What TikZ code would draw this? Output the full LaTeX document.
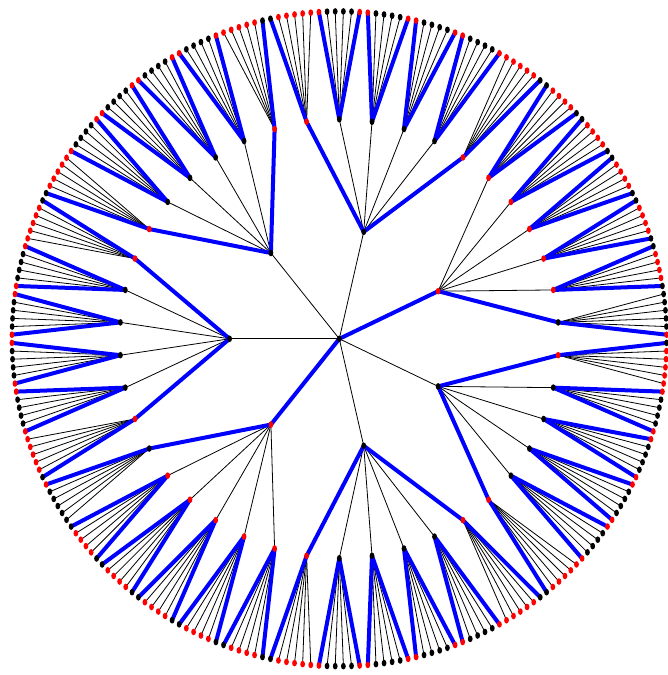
\documentclass[tikz,border=0pt]{standalone}
\usetikzlibrary{shapes.geometric}
\definecolor{rd}{RGB}{255,0,0}
\definecolor{bl}{RGB}{0,0,255}
\tikzset{
  thinedge/.style={draw=black, line width=0.8pt},
  blueedge/.style={draw=bl, line width=4pt},
  dotbase/.style={ellipse, inner sep=0pt, minimum width=4.8pt, minimum height=6.6pt, draw=none},
  reddot/.style={dotbase, fill=rd},
  blackdot/.style={dotbase, fill=black}
}
\begin{document}
\begin{tikzpicture}[x=1pt,y=1pt]
\useasboundingbox (0,0) rectangle (667,675);
\coordinate (root) at (339.3,336.2);
% positions
\foreach \c in {0,...,6}{
  \pgfmathsetmacro\ca{180+360/7*\c}
  \path (root) ++(\ca:109.7) coordinate (c\c);
  \foreach \k in {0,...,5}{
    \pgfmathsetmacro\ga{\ca+360/42*(\k-2.5)}
    \path (root) ++(\ga:219.5) coordinate (g\c-\k);
    \foreach \j in {0,...,5}{
      \pgfmathsetmacro\la{\ga+360/252*(\j-2.5)}
      \path (root) ++(\la:327.4) coordinate (l\c-\k-\j);
    }
  }
}
% thin edges
\foreach \c in {0,...,6}{
  \pgfmathtruncatemacro\cb{or(\c==1,\c==4)}
  \ifnum\cb=0\relax \draw[thinedge] (root) -- (c\c);\fi
  \foreach \k in {0,...,5}{
    \pgfmathtruncatemacro\gb{or(\k==0,and(\cb==0,\k==5))}
    \ifnum\gb=0\relax \draw[thinedge] (c\c) -- (g\c-\k);\fi
    \foreach \j in {0,...,5}{
      \pgfmathtruncatemacro\lb{or(and(\j==0,or(\gb==0,\k==0)),and(\j==5,or(\gb==0,\k==5)))}
      \ifnum\lb=0\relax \draw[thinedge] (g\c-\k) -- (l\c-\k-\j);\fi
    }
  }
}
% blue edges
\foreach \c in {0,...,6}{
  \pgfmathtruncatemacro\cb{or(\c==1,\c==4)}
  \ifnum\cb=1\relax \draw[blueedge] (root) -- (c\c);\fi
  \foreach \k in {0,...,5}{
    \pgfmathtruncatemacro\gb{or(\k==0,and(\cb==0,\k==5))}
    \ifnum\gb=1\relax \draw[blueedge] (c\c) -- (g\c-\k);\fi
    \foreach \j in {0,...,5}{
      \pgfmathtruncatemacro\lb{or(and(\j==0,or(\gb==0,\k==0)),and(\j==5,or(\gb==0,\k==5)))}
      \ifnum\lb=1\relax \draw[blueedge] (g\c-\k) -- (l\c-\k-\j);\fi
    }
  }
}
% dots
\node[blackdot] (droot) at (root) {};
\foreach \c in {0,...,6}{
  \pgfmathtruncatemacro\cb{or(\c==1,\c==4)}
  \ifodd\cb\relax \node[reddot] (dc\c) at (c\c) {};\else \node[blackdot] (dc\c) at (c\c) {};\fi
  \foreach \k in {0,...,5}{
    \pgfmathtruncatemacro\gb{or(\k==0,and(\cb==0,\k==5))}
    \pgfmathtruncatemacro\gp{\cb+\gb}
    \ifodd\gp\relax \node[reddot] (dg\c-\k) at (g\c-\k) {};\else \node[blackdot] (dg\c-\k) at (g\c-\k) {};\fi
    \foreach \j in {0,...,5}{
      \pgfmathtruncatemacro\lb{or(and(\j==0,or(\gb==0,\k==0)),and(\j==5,or(\gb==0,\k==5)))}
      \pgfmathtruncatemacro\lp{\gp+\lb}
      \ifodd\lp\relax \node[reddot] (dl\c-\k-\j) at (l\c-\k-\j) {};\else \node[blackdot] (dl\c-\k-\j) at (l\c-\k-\j) {};\fi
    }
  }
}
\end{tikzpicture}
\end{document}
